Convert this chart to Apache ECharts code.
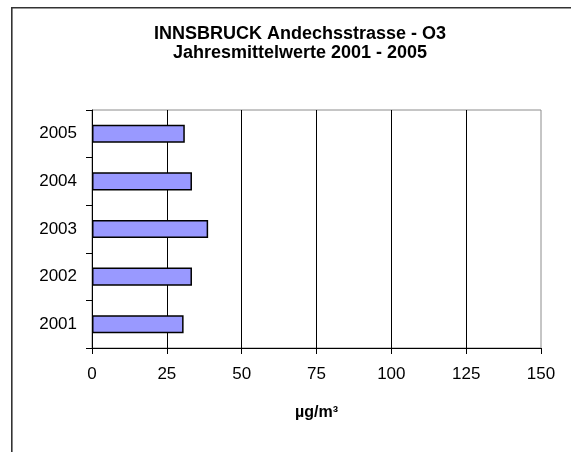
<!DOCTYPE html>
<html>
<head>
<meta charset="utf-8">
<script src="https://cdn.jsdelivr.net/npm/echarts@6/dist/echarts.min.js"></script>
<style>
  html, body { margin: 0; padding: 0; background: #fff; overflow: hidden; }
  #chart { width: 571px; height: 452px; }
</style>
</head>
<body>
<div id="chart"></div>
<script>
// Annual mean O3 concentration, Innsbruck Andechsstrasse
const years = ['2001', '2002', '2003', '2004', '2005'];
const meanO3 = [30.6, 33.4, 38.8, 33.4, 31.0];
const xTicks = { min: 0, max: 150, interval: 25 };

const titleLines = ['INNSBRUCK Andechsstrasse - O3', 'Jahresmittelwerte 2001 - 2005'];
const unitLabel = 'µg/m³';

const FONT = '"Liberation Sans", Arial, sans-serif';

const chart = echarts.init(document.getElementById('chart'), null, { renderer: 'canvas' });

chart.setOption({
  animation: false,
  backgroundColor: '#ffffff',
  title: {
    text: titleLines.join('\n'),
    left: 295,
    top: 20,
    textAlign: 'center',
    textStyle: {
      fontFamily: FONT,
      fontSize: 18,
      fontWeight: 'bold',
      color: '#000',
      lineHeight: 19,
      align: 'center'
    }
  },
  graphic: [
    {
      // outer chart frame, left edge
      type: 'rect',
      shape: { x: 11, y: 7, width: 1.6, height: 460 },
      style: { fill: '#333' },
      silent: true
    },
    {
      // outer chart frame, top edge
      type: 'rect',
      shape: { x: 11, y: 7, width: 580, height: 1.6 },
      style: { fill: '#333' },
      silent: true
    }
  ],
  grid: {
    left: 92,
    right: 30,
    top: 110,
    bottom: 104,
    show: true,
    borderColor: '#8c8c8c',
    borderWidth: 1,
    backgroundColor: 'transparent'
  },
  xAxis: {
    type: 'value',
    min: xTicks.min,
    max: xTicks.max,
    interval: xTicks.interval,
    name: unitLabel,
    nameLocation: 'middle',
    nameGap: 57,
    nameTextStyle: { fontFamily: FONT, fontSize: 16, fontWeight: 'bold', color: '#000' },
    axisLine: { show: true, lineStyle: { color: '#000', width: 1 } },
    axisTick: { show: true, length: 6, lineStyle: { color: '#000' } },
    axisLabel: { fontFamily: FONT, fontSize: 17, color: '#000', margin: 18 },
    splitLine: { show: true, showMaxLine: false, lineStyle: { color: '#000', width: 1 } }
  },
  yAxis: {
    type: 'category',
    data: years,
    axisLine: { show: true, lineStyle: { color: '#000', width: 1 } },
    axisTick: { show: true, length: 6, alignWithLabel: false, lineStyle: { color: '#000' } },
    axisLabel: { fontFamily: FONT, fontSize: 17, color: '#000', margin: 15 },
    splitLine: { show: false }
  },
  series: [
    {
      type: 'bar',
      data: meanO3,
      barWidth: '38%',
      itemStyle: { color: '#9999ff', borderColor: '#000', borderWidth: 1.5 }
    }
  ]
});
</script>
</body>
</html>
